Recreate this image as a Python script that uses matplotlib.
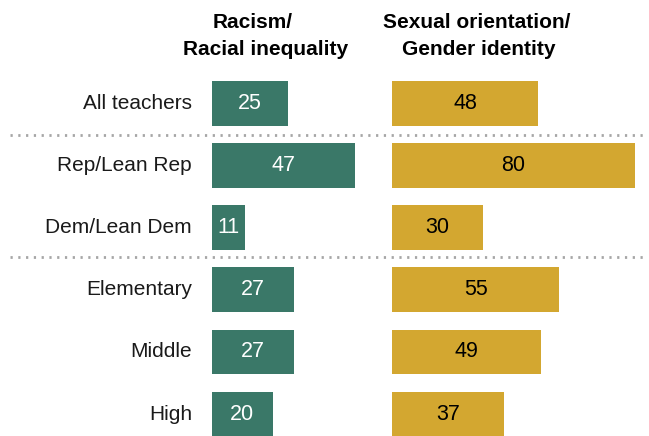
import matplotlib
matplotlib.use("Agg")
import matplotlib.pyplot as plt
import matplotlib.transforms as mtransforms
from matplotlib import font_manager

groups = ["All teachers", "Rep/Lean Rep", "Dem/Lean Dem", "Elementary", "Middle", "High"]
racism = [25, 47, 11, 27, 27, 20]
gender = [48, 80, 30, 55, 49, 37]
header_left = ["Racism/", "Racial inequality"]
header_right = ["Sexual orientation/", "Gender identity"]

green = "#3a7868"
gold = "#d3a730"

names = {f.name for f in font_manager.fontManager.ttflist}
narrow = "Liberation Sans Narrow" if "Liberation Sans Narrow" in names else "Liberation Sans"
hdr_size = 16 if narrow == "Liberation Sans Narrow" else 15

W, H = 649, 436
fig = plt.figure(figsize=(W / 100, H / 100), dpi=100)

px_per_unit = 3.04
row0, step = 103.5, 62.1
y_top = row0 - step / 2
y_bot = H
ymax = (y_bot - row0) / step


def make_ax(x0, xmax):
    ax = fig.add_axes([x0 / W, 1 - y_bot / H, xmax * px_per_unit / W, (y_bot - y_top) / H])
    ax.set_xlim(0, xmax)
    ax.set_ylim(ymax, -0.5)
    ax.axis("off")
    return ax


ax1 = make_ax(212, 55)
ax2 = make_ax(392, 84)

ypos = list(range(len(groups)))
ax1.barh(ypos, racism, height=0.72, color=green)
ax2.barh(ypos, gender, height=0.72, color=gold)

for y, v in zip(ypos, racism):
    ax1.text(v / 2, y, str(v), ha="center", va="center", color="white",
             fontsize=15.5, family="Liberation Sans")
for y, v in zip(ypos, gender):
    ax2.text(v / 2, y, str(v), ha="center", va="center", color="black",
             fontsize=15.5, family="Liberation Sans")

for y, g in zip(ypos, groups):
    ax1.text(-20 / px_per_unit, y, g, ha="right", va="center", color="#1a1a1a",
             fontsize=15, family="Liberation Sans")

# dotted separators across the full width
trans = mtransforms.blended_transform_factory(fig.transFigure, ax1.transData)
for yl in [0.5, 2.47]:
    ax1.plot([10 / W, 647 / W], [yl, yl], transform=trans, clip_on=False,
             color="#a6a6a6", linewidth=2, linestyle=(0, (0.8, 2.0)))

# column headers
hdr = dict(ha="center", va="baseline", fontsize=hdr_size, fontweight="bold",
           family=narrow, color="black")
fig.text(253 / W, 1 - 28 / H, header_left[0], **hdr)
fig.text(266 / W, 1 - 55 / H, header_left[1], **hdr)
fig.text(477 / W, 1 - 28 / H, header_right[0], **hdr)
fig.text(479 / W, 1 - 55 / H, header_right[1], **hdr)

fig.savefig("out.png", dpi=100)
